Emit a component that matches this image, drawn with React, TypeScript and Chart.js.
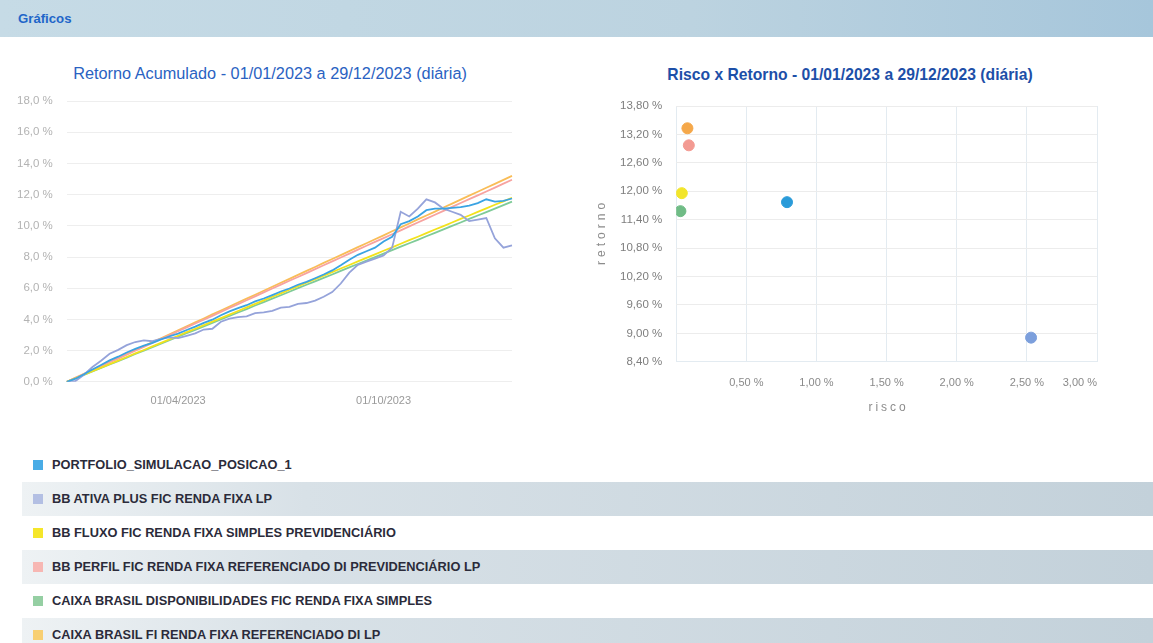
import React, { useEffect, useRef } from 'react';
import { Chart, registerables } from 'chart.js';

Chart.register(...registerables);

const FONT = "'Liberation Sans', Arial, Helvetica, sans-serif";

const seriesNames = [
  'PORTFOLIO_SIMULACAO_POSICAO_1',
  'BB ATIVA PLUS FIC RENDA FIXA LP',
  'BB FLUXO FIC RENDA FIXA SIMPLES PREVIDENCIÁRIO',
  'BB PERFIL FIC RENDA FIXA REFERENCIADO DI PREVIDENCIÁRIO LP',
  'CAIXA BRASIL DISPONIBILIDADES FIC RENDA FIXA SIMPLES',
  'CAIXA BRASIL FI RENDA FIXA REFERENCIADO DI LP',
];
const lineColors = ['#3aa3e3', '#95a3da', '#f2e21c', '#f7a3a0', '#7fcb98', '#f9bd57'];
const legendColors = ['#49ace6', '#b3bfe3', '#f5e62a', '#f7b7b3', '#95cfa3', '#f8cf72'];
const pointColors = ['#2a9bd9', '#7c9fdc', '#f2e52b', '#f39a92', '#70bc86', '#f5a84a'];

const dateLabels = [
  '02/01/2023', '09/01/2023', '16/01/2023', '23/01/2023', '30/01/2023', '06/02/2023', '13/02/2023',
  '22/02/2023', '01/03/2023', '08/03/2023', '15/03/2023', '22/03/2023', '27/03/2023', '01/04/2023',
  '10/04/2023', '17/04/2023', '24/04/2023', '02/05/2023', '09/05/2023', '16/05/2023', '23/05/2023',
  '30/05/2023', '06/06/2023', '13/06/2023', '20/06/2023', '27/06/2023', '04/07/2023', '11/07/2023',
  '18/07/2023', '25/07/2023', '01/08/2023', '08/08/2023', '15/08/2023', '22/08/2023', '29/08/2023',
  '05/09/2023', '19/09/2023', '01/10/2023', '09/10/2023', '16/10/2023', '23/10/2023', '30/10/2023',
  '06/11/2023', '13/11/2023', '20/11/2023', '27/11/2023', '04/12/2023', '08/12/2023', '12/12/2023',
  '15/12/2023', '19/12/2023', '22/12/2023', '29/12/2023',
];
const shownDateTicks = ['01/04/2023', '01/10/2023'];

const portfolio = [
  0, 0.2, 0.48, 0.79, 1.08, 1.37, 1.61, 1.88, 2.11, 2.32,
  2.49, 2.71, 2.92, 3.09, 3.32, 3.54, 3.78, 3.98, 4.27, 4.51,
  4.72, 4.91, 5.15, 5.34, 5.56, 5.79, 5.98, 6.22, 6.41, 6.64,
  6.88, 7.14, 7.47, 7.82, 8.14, 8.37, 8.6, 9.0, 9.3, 10.1,
  10.3, 10.6, 11.0, 11.1, 11.1, 11.15, 11.2, 11.3, 11.45, 11.7,
  11.55, 11.6, 11.75,
];
const bbAtivaPlus = [
  0, 0.05, 0.45, 0.95, 1.35, 1.8, 2.05, 2.35, 2.55, 2.65,
  2.6, 2.75, 2.85, 2.8, 2.95, 3.1, 3.35, 3.4, 3.85, 4.05,
  4.15, 4.2, 4.4, 4.45, 4.55, 4.75, 4.8, 5.0, 5.05, 5.2,
  5.45, 5.75, 6.3, 7.0, 7.5, 7.7, 7.9, 8.1, 8.6, 10.9,
  10.6, 11.1, 11.7, 11.5, 11.1, 10.9, 10.7, 10.3, 10.4, 10.5,
  9.2, 8.6, 8.75,
];
const bbFluxo = [
  0, 0.23, 0.45, 0.68, 0.91, 1.13, 1.36, 1.59, 1.82, 2.04,
  2.27, 2.5, 2.72, 2.95, 3.18, 3.4, 3.63, 3.86, 4.08, 4.31,
  4.54, 4.77, 4.99, 5.22, 5.45, 5.67, 5.9, 6.13, 6.35, 6.58,
  6.81, 7.03, 7.26, 7.49, 7.72, 7.94, 8.17, 8.4, 8.62, 8.85,
  9.08, 9.3, 9.53, 9.76, 9.98, 10.21, 10.44, 10.66, 10.89, 11.12,
  11.35, 11.57, 11.8,
];
const bbPerfil = [
  0, 0.25, 0.5, 0.75, 1.0, 1.25, 1.49, 1.74, 1.99, 2.24,
  2.49, 2.74, 2.99, 3.24, 3.49, 3.74, 3.98, 4.23, 4.48, 4.73,
  4.98, 5.23, 5.48, 5.73, 5.98, 6.23, 6.48, 6.72, 6.97, 7.22,
  7.47, 7.72, 7.97, 8.22, 8.47, 8.72, 8.97, 9.21, 9.46, 9.71,
  9.96, 10.21, 10.46, 10.71, 10.96, 11.21, 11.46, 11.71, 11.95, 12.2,
  12.45, 12.7, 12.95,
];
const caixaDisponibilidades = [
  0, 0.22, 0.44, 0.67, 0.89, 1.11, 1.33, 1.55, 1.78, 2.0,
  2.22, 2.44, 2.67, 2.89, 3.11, 3.33, 3.55, 3.78, 4.0, 4.22,
  4.44, 4.66, 4.89, 5.11, 5.33, 5.55, 5.77, 6.0, 6.22, 6.44,
  6.66, 6.88, 7.11, 7.33, 7.55, 7.77, 7.99, 8.22, 8.44, 8.66,
  8.88, 9.1, 9.33, 9.55, 9.77, 9.99, 10.21, 10.44, 10.66, 10.88,
  11.1, 11.33, 11.55,
];
const caixaFiRefDi = [
  0, 0.25, 0.51, 0.76, 1.02, 1.27, 1.52, 1.78, 2.03, 2.28,
  2.54, 2.79, 3.05, 3.3, 3.55, 3.81, 4.06, 4.32, 4.57, 4.82,
  5.08, 5.33, 5.58, 5.84, 6.09, 6.35, 6.6, 6.85, 7.11, 7.36,
  7.62, 7.87, 8.12, 8.38, 8.63, 8.88, 9.14, 9.39, 9.65, 9.9,
  10.15, 10.41, 10.66, 10.91, 11.17, 11.42, 11.68, 11.93, 12.18, 12.44,
  12.69, 12.94, 13.2,
];
const lineSeries = [portfolio, bbAtivaPlus, bbFluxo, bbPerfil, caixaDisponibilidades, caixaFiRefDi];

// risk x return (%)
const riskValues = [0.79, 2.53, 0.04, 0.09, 0.03, 0.08];
const returnValues = [11.77, 8.91, 11.96, 12.97, 11.58, 13.33];

const leftTitle = 'Retorno Acumulado - 01/01/2023 a 29/12/2023 (diária)';
const rightTitle = 'Risco x Retorno - 01/01/2023 a 29/12/2023 (diária)';
const xAxisTitle = 'risco';
const yAxisTitle = 'retorno';

const fmt = (v: number, d: number) => v.toFixed(d).replace('.', ',') + ' %';

const spacedAxisTitles = {
  id: 'spacedAxisTitles',
  afterDraw(chart: any) {
    const { ctx, chartArea, scales } = chart;
    ctx.save();
    ctx.fillStyle = '#8c8c8c';
    ctx.font = `12px ${FONT}`;
    ctx.textAlign = 'center';
    ctx.textBaseline = 'middle';
    (ctx as any).letterSpacing = '3px';
    ctx.fillText(xAxisTitle, (chartArea.left + chartArea.right) / 2 + 2, scales.x.bottom + 3);
    (ctx as any).letterSpacing = '4px';
    ctx.translate(scales.y.left - 4, (chartArea.top + chartArea.bottom) / 2);
    ctx.rotate(-Math.PI / 2);
    ctx.fillText(yAxisTitle, 2, 0);
    ctx.restore();
  },
};

function LineChart() {
  const ref = useRef<HTMLCanvasElement>(null);
  useEffect(() => {
    if (!ref.current) return;
    const chart = new Chart(ref.current, {
      type: 'line',
      data: {
        labels: dateLabels,
        datasets: lineSeries.map((s, i) => ({
          label: seriesNames[i],
          data: s,
          borderColor: lineColors[i],
          backgroundColor: lineColors[i],
          borderWidth: 1.8,
          pointRadius: 0,
          tension: 0,
          fill: false,
        })),
      },
      options: {
        responsive: false,
        animation: false,
        layout: { padding: { left: 3, right: 28, bottom: 4, top: 49 } },
        plugins: {
          legend: { display: false },
          tooltip: { enabled: false },
          title: { display: false },
        },
        scales: {
          x: {
            type: 'category',
            grid: { display: false },
            border: { display: false },
            ticks: {
              autoSkip: false,
              maxRotation: 0,
              padding: 5,
              color: '#9a9a9a',
              font: { family: FONT, size: 11 },
              callback: function (this: any, _v: any, idx: number) {
                const l = dateLabels[idx];
                return shownDateTicks.includes(l) ? l : '';
              },
            },
          },
          y: {
            min: 0,
            max: 18,
            grid: { color: '#eeeeee', drawTicks: false },
            border: { display: false },
            ticks: {
              stepSize: 2,
              padding: 14,
              color: '#b3b3b3',
              font: { family: FONT, size: 11.5 },
              callback: (v: any) => fmt(Number(v), 1),
            },
          },
        },
      },
    });
    return () => chart.destroy();
  }, []);
  return (
    <canvas
      ref={ref}
      width={540}
      height={365}
      style={{ position: 'absolute', left: 0, top: 52, width: 540, height: 365 }}
    />
  );
}

function ScatterChart() {
  const ref = useRef<HTMLCanvasElement>(null);
  useEffect(() => {
    if (!ref.current) return;
    const chart = new Chart(ref.current, {
      type: 'scatter',
      data: {
        datasets: seriesNames.map((n, i) => ({
          label: n,
          data: [{ x: riskValues[i], y: returnValues[i] }],
          backgroundColor: pointColors[i],
          borderColor: pointColors[i],
          pointRadius: 5.5,
        })),
      },
      options: {
        responsive: false,
        animation: false,
        layout: { padding: { left: 26, right: 23, bottom: 19, top: 54 } },
        plugins: {
          legend: { display: false },
          tooltip: { enabled: false },
          title: { display: false },
        },
        scales: {
          x: {
            type: 'linear',
            min: 0,
            max: 3,
            grid: { color: '#e3ebf1', drawTicks: false },
            border: { display: true, color: '#e3ebf1' },
            ticks: {
              stepSize: 0.5,
              align: 'inner',
              padding: 15,
              color: '#8a8a8a',
              font: { family: FONT, size: 11 },
              callback: (v: any) => (Number(v) === 0 ? '' : fmt(Number(v), 2)),
            },
          },
          y: {
            type: 'linear',
            min: 8.4,
            max: 13.8,
            grid: { color: '#ececec', drawTicks: false },
            border: { display: false },
            ticks: {
              stepSize: 0.6,
              padding: 14,
              color: '#7e7e7e',
              font: { family: FONT, size: 11.5 },
              callback: (v: any) => fmt(Number(v), 2),
            },
          },
        },
      },
      plugins: [spacedAxisTitles],
    });
    return () => chart.destroy();
  }, []);
  return (
    <canvas
      ref={ref}
      width={540}
      height={372}
      style={{ position: 'absolute', left: 580, top: 52, width: 540, height: 372 }}
    />
  );
}

function Legend() {
  return (
    <div style={{ position: 'absolute', left: 0, top: 448, width: 1153 }}>
      {seriesNames.map((n, i) => (
        <div
          key={n}
          style={{
            position: 'relative',
            height: 34,
            marginLeft: 22,
            background:
              i % 2 === 1
                ? 'linear-gradient(to right, #eef2f4 0%, #d8e1e7 25%, #c3d1da 100%)'
                : 'transparent',
          }}
        >
          <div
            style={{
              position: 'absolute',
              left: 11,
              top: 12,
              width: 10,
              height: 10,
              background: legendColors[i],
            }}
          />
          <div
            style={{
              position: 'absolute',
              left: 30,
              top: 0,
              lineHeight: '34px',
              fontFamily: FONT,
              fontWeight: 'bold',
              fontSize: 12.8,
              color: '#2b2b3a',
              whiteSpace: 'nowrap',
            }}
          >
            {n}
          </div>
        </div>
      ))}
    </div>
  );
}

export default function App() {
  return (
    <div
      style={{
        position: 'absolute',
        left: 0,
        top: 0,
        width: 1153,
        height: 643,
        overflow: 'hidden',
        background: '#ffffff',
        fontFamily: FONT,
      }}
    >
      <div
        style={{
          position: 'absolute',
          left: 0,
          top: 0,
          width: 1153,
          height: 37,
          background: 'linear-gradient(to right, #c6dbe6 0%, #bcd3e0 60%, #a6c6db 100%)',
        }}
      >
        <div
          style={{
            position: 'absolute',
            left: 18,
            top: 11,
            fontFamily: FONT,
            fontWeight: 'bold',
            fontSize: 13.2,
            color: '#1f66c9',
          }}
        >
          Gráficos
        </div>
      </div>
      <div
        style={{
          position: 'absolute',
          left: 20,
          width: 500,
          top: 63,
          textAlign: 'center',
          fontFamily: FONT,
          fontSize: 16.3,
          lineHeight: '20px',
          color: '#2a62c2',
          whiteSpace: 'nowrap',
        }}
      >
        {leftTitle}
      </div>
      <div
        style={{
          position: 'absolute',
          left: 600,
          width: 500,
          top: 65,
          textAlign: 'center',
          fontFamily: FONT,
          fontSize: 15.7,
          fontWeight: 'bold',
          lineHeight: '20px',
          color: '#1d4fa8',
          whiteSpace: 'nowrap',
        }}
      >
        {rightTitle}
      </div>
      <LineChart />
      <ScatterChart />
      <Legend />
    </div>
  );
}
